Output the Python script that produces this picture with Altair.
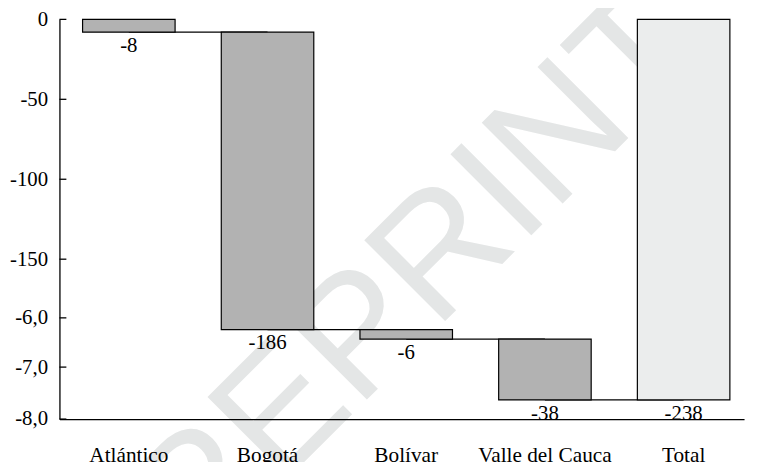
import altair as alt
import pandas as pd

categories = ["Atlántico", "Bogotá", "Bolívar", "Valle del Cauca", "Total"]
changes = [-8, -186, -6, -38, -238]
is_total = [False, False, False, False, True]
label_texts = ["-8", "-186", "-6", "-38", "-238"]
y_tick_values = [0, -50, -100, -150, -186.7, -217.5, -250]
y_tick_labels = ["0", "-50", "-100", "-150", "-6,0", "-7,0", "-8,0"]
watermark = "PREPRINT"

rows = []
running = 0
for cat, ch, tot, lab in zip(categories, changes, is_total, label_texts):
    if tot:
        start, end = 0, ch
    else:
        start, end = running, running + ch
        running = end
    rows.append(dict(cat=cat, start=start, end=end, label=lab,
                     kind="total" if tot else "step"))
bars_df = pd.DataFrame(rows)
conn_df = pd.DataFrame([dict(cat=rows[i]["cat"], nxt=rows[i + 1]["cat"], level=rows[i]["end"])
                        for i in range(len(rows) - 1)])
ticks_df = pd.DataFrame({"v": y_tick_values})

label_expr = "".join(
    f"abs(datum.value - ({v})) < 0.01 ? '{l}' : " for v, l in zip(y_tick_values, y_tick_labels)
) + "''"

SERIF = "Liberation Serif"
xscale = alt.Scale(domain=categories, paddingInner=0.333, paddingOuter=0.1345, align=0.62)
yscale = alt.Scale(domain=[-250, 0], nice=False, zero=False)

x_axis = alt.Axis(title=None, ticks=False, labelPadding=26, labelAngle=0, labelFont=SERIF,
                  labelFontSize=21.5, labelColor="black", domainColor="black", domainWidth=1.3,
                  grid=False, zindex=1)
y_axis = alt.Axis(title=None, values=y_tick_values, labelExpr=label_expr, ticks=False,
                  labelPadding=12, labelFont=SERIF, labelFontSize=21, labelColor="black",
                  domainColor="black", domainWidth=1.3, grid=False, labelOverlap=False, zindex=1)

wm = alt.Chart(pd.DataFrame({"t": [watermark]})).mark_text(
    angle=315, font="Liberation Sans", fontSize=168,
    color="#e4e6e6", align="center", baseline="alphabetic"
).encode(text="t:N", x=alt.value(357), y=alt.value(338))

conn = alt.Chart(conn_df).mark_rule(color="black", strokeWidth=1.2).encode(
    x=alt.X("cat:N", scale=xscale, axis=x_axis, sort=categories),
    x2="nxt:N",
    y=alt.Y("level:Q", scale=yscale, axis=y_axis),
)

bars = alt.Chart(bars_df).mark_bar(stroke="black", strokeWidth=1.2).encode(
    x=alt.X("cat:N", scale=xscale, axis=x_axis, sort=categories),
    y=alt.Y("start:Q", scale=yscale, axis=y_axis),
    y2="end:Q",
    color=alt.Color("kind:N", scale=alt.Scale(domain=["step", "total"],
                                               range=["#b2b2b2", "#ebeded"]), legend=None),
)

labels = alt.Chart(bars_df).mark_text(font=SERIF, fontSize=21, color="black",
                                      baseline="middle", dy=14).encode(
    x=alt.X("cat:N", scale=xscale, sort=categories),
    y=alt.Y("end:Q", scale=yscale),
    text="label:N",
)

ticks = alt.Chart(ticks_df).mark_rule(color="black", strokeWidth=1.3).encode(
    x=alt.value(0), x2=alt.value(7), y=alt.Y("v:Q", scale=yscale)
)

chart = alt.layer(wm, conn, bars, labels, ticks).properties(
    width=692, height=404,
    autosize=alt.AutoSizeParams(type="none"),
    padding={"left": 52, "top": 9, "right": 5, "bottom": 50},
).configure_view(stroke=None)

chart.save("out.html", embed_options={"renderer": "svg", "actions": False})
